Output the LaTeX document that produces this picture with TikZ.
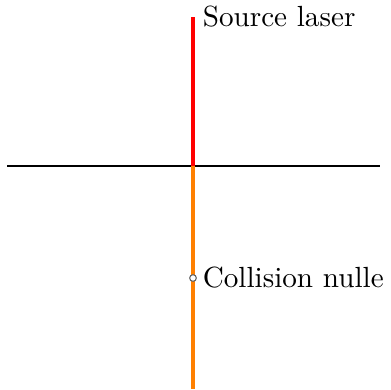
\documentclass[tikz,border=0pt]{standalone}
\begin{document}
\begin{tikzpicture}[x=0.36pt,y=-0.36pt,
  laser/.style={draw=red,line width=1.1pt},
  beam/.style={draw=orange,line width=1.1pt},
  axis/.style={draw=black,line width=0.75pt},
  dot/.style={circle,draw=gray!80!black,fill=white,inner sep=0pt,minimum size=2.4pt,line width=0.4pt},
  lbl/.style={right,font=\fontsize{10.5}{12}\selectfont}]
\useasboundingbox (0,0) rectangle (391,389);
\coordinate (top) at (193,17);
\coordinate (mid) at (193,166);
\coordinate (bot) at (193,389);
\coordinate (left) at (7,166);
\coordinate (right) at (380,166);
\draw[axis] (left) -- (right);
\draw[laser] (top) -- (mid);
\draw[beam] (mid) -- (bot);
\node[dot] (c) at (193,278) {};
\node[lbl] (src) at (top) {Source laser};
\node[lbl] (col) at (c.center) {Collision nulle};
\end{tikzpicture}
\end{document}
